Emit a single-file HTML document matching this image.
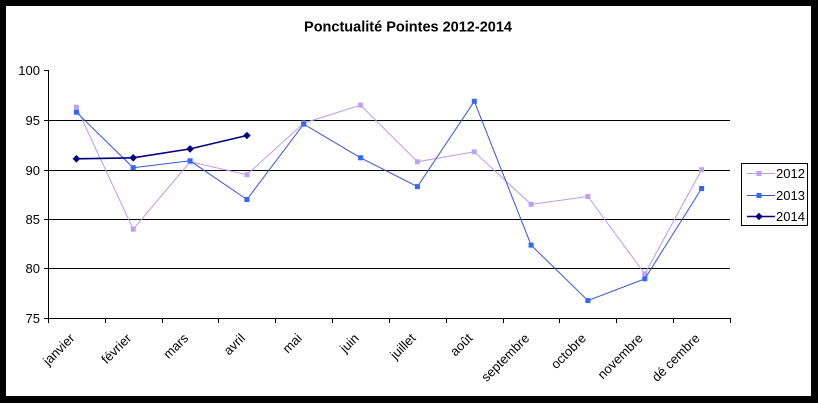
<!DOCTYPE html>
<html><head><meta charset="utf-8"><style>
html,body{margin:0;padding:0;background:#000;}
svg{display:block;}
text{font-family:"Liberation Sans",Arial,sans-serif;}
</style></head><body>
<svg width="818" height="403" xmlns="http://www.w3.org/2000/svg">
<rect x="0" y="0" width="818" height="403" fill="#000"/>
<rect x="6" y="6" width="805" height="390" fill="#fff"/>
<text x="408" y="31.5" font-size="14.5" font-weight="bold" text-anchor="middle" fill="#000">Ponctualité Pointes 2012-2014</text>
<g stroke="#000" stroke-width="1" shape-rendering="crispEdges">
<line x1="48" y1="120.5" x2="730" y2="120.5"/>
<line x1="48" y1="170.5" x2="730" y2="170.5"/>
<line x1="48" y1="219.5" x2="730" y2="219.5"/>
<line x1="48" y1="268.5" x2="730" y2="268.5"/>
<line x1="48.5" y1="70" x2="48.5" y2="319"/>
<line x1="48" y1="318.5" x2="730" y2="318.5"/>
<line x1="44" y1="70.5" x2="48" y2="70.5"/>
<line x1="44" y1="120.5" x2="48" y2="120.5"/>
<line x1="44" y1="170.5" x2="48" y2="170.5"/>
<line x1="44" y1="219.5" x2="48" y2="219.5"/>
<line x1="44" y1="268.5" x2="48" y2="268.5"/>
<line x1="44" y1="318.5" x2="48" y2="318.5"/>
<line x1="48.5" y1="318" x2="48.5" y2="323"/>
<line x1="105.5" y1="318" x2="105.5" y2="323"/>
<line x1="162.5" y1="318" x2="162.5" y2="323"/>
<line x1="218.5" y1="318" x2="218.5" y2="323"/>
<line x1="275.5" y1="318" x2="275.5" y2="323"/>
<line x1="332.5" y1="318" x2="332.5" y2="323"/>
<line x1="389.5" y1="318" x2="389.5" y2="323"/>
<line x1="446.5" y1="318" x2="446.5" y2="323"/>
<line x1="503.5" y1="318" x2="503.5" y2="323"/>
<line x1="559.5" y1="318" x2="559.5" y2="323"/>
<line x1="616.5" y1="318" x2="616.5" y2="323"/>
<line x1="673.5" y1="318" x2="673.5" y2="323"/>
<line x1="730.5" y1="318" x2="730.5" y2="323"/>
</g>
<g font-size="13" fill="#000" text-anchor="end">
<text x="40" y="75">100</text>
<text x="40" y="125">95</text>
<text x="40" y="175">90</text>
<text x="40" y="224">85</text>
<text x="40" y="273">80</text>
<text x="40" y="323">75</text>
</g>
<g font-size="13" fill="#000" text-anchor="end">
<text transform="translate(75.4,339) rotate(-45)">janvier</text>
<text transform="translate(132.2,339) rotate(-45)">février</text>
<text transform="translate(189.1,339) rotate(-45)">mars</text>
<text transform="translate(245.9,339) rotate(-45)">avril</text>
<text transform="translate(302.7,339) rotate(-45)">mai</text>
<text transform="translate(359.6,339) rotate(-45)">juin</text>
<text transform="translate(416.4,339) rotate(-45)">juillet</text>
<text transform="translate(473.3,339) rotate(-45)">août</text>
<text transform="translate(530.1,339) rotate(-45)">septembre</text>
<text transform="translate(586.9,339) rotate(-45)">octobre</text>
<text transform="translate(643.8,339) rotate(-45)">novembre</text>
<text transform="translate(700.6,339) rotate(-45)">dé cembre</text>
</g>
<!-- 2012 -->
<polyline fill="none" stroke="#bb99ee" stroke-width="1" points="76.4,107.2 133.2,229.2 190.1,161.8 246.9,174.7 303.7,123.1 360.6,105.2 417.4,161.8 474.3,151.8 531.1,204.4 587.9,196.5 644.8,273.9 701.6,169.7"/>
<g fill="#c0a0f0">
<rect x="73.9" y="104.7" width="5" height="5"/><rect x="130.7" y="226.7" width="5" height="5"/><rect x="187.6" y="159.3" width="5" height="5"/><rect x="244.4" y="172.2" width="5" height="5"/><rect x="301.2" y="120.6" width="5" height="5"/><rect x="358.1" y="102.7" width="5" height="5"/><rect x="414.9" y="159.3" width="5" height="5"/><rect x="471.8" y="149.3" width="5" height="5"/><rect x="528.6" y="201.9" width="5" height="5"/><rect x="585.4" y="194" width="5" height="5"/><rect x="642.3" y="271.4" width="5" height="5"/><rect x="699.1" y="167.2" width="5" height="5"/>
</g>
<!-- 2013 -->
<polyline fill="none" stroke="#3355dd" stroke-width="1" points="76.4,112.2 133.2,167.7 190.1,160.8 246.9,199.5 303.7,124.1 360.6,157.8 417.4,186.6 474.3,101.3 531.1,245.1 587.9,300.6 644.8,278.8 701.6,188.5"/>
<g fill="#3366ff">
<rect x="73.9" y="109.7" width="5" height="5"/><rect x="130.7" y="165.2" width="5" height="5"/><rect x="187.6" y="158.3" width="5" height="5"/><rect x="244.4" y="197" width="5" height="5"/><rect x="301.2" y="121.6" width="5" height="5"/><rect x="358.1" y="155.3" width="5" height="5"/><rect x="414.9" y="184.1" width="5" height="5"/><rect x="471.8" y="98.8" width="5" height="5"/><rect x="528.6" y="242.6" width="5" height="5"/><rect x="585.4" y="298.1" width="5" height="5"/><rect x="642.3" y="276.3" width="5" height="5"/><rect x="699.1" y="186" width="5" height="5"/>
</g>
<!-- 2014 -->
<polyline fill="none" stroke="#000080" stroke-width="1.6" points="76.4,158.8 133.2,157.8 190.1,148.9 246.9,135.5"/>
<g fill="#000080">
<polygon points="76.4,155 80.2,158.8 76.4,162.6 72.6,158.8"/>
<polygon points="133.2,154 137,157.8 133.2,161.6 129.4,157.8"/>
<polygon points="190.1,145.1 193.9,148.9 190.1,152.7 186.3,148.9"/>
<polygon points="246.9,131.7 250.7,135.5 246.9,139.3 243.1,135.5"/>
</g>
<!-- legend -->
<rect x="741.5" y="163.5" width="66" height="62" fill="#fff" stroke="#000" stroke-width="1"/>
<line x1="747" y1="173.5" x2="775" y2="173.5" stroke="#bb99ee" stroke-width="1"/>
<rect x="756.5" y="171" width="5" height="5" fill="#c0a0f0"/>
<line x1="747" y1="195.5" x2="775" y2="195.5" stroke="#3355dd" stroke-width="1"/>
<rect x="756.5" y="193" width="5" height="5" fill="#3366ff"/>
<line x1="747" y1="216.5" x2="775" y2="216.5" stroke="#000080" stroke-width="1.6"/>
<polygon points="759,212.7 762.8,216.5 759,220.3 755.2,216.5" fill="#000080"/>
<g font-size="13" fill="#000">
<text x="776" y="178">2012</text>
<text x="776" y="200">2013</text>
<text x="776" y="221">2014</text>
</g>
</svg>
</body></html>
